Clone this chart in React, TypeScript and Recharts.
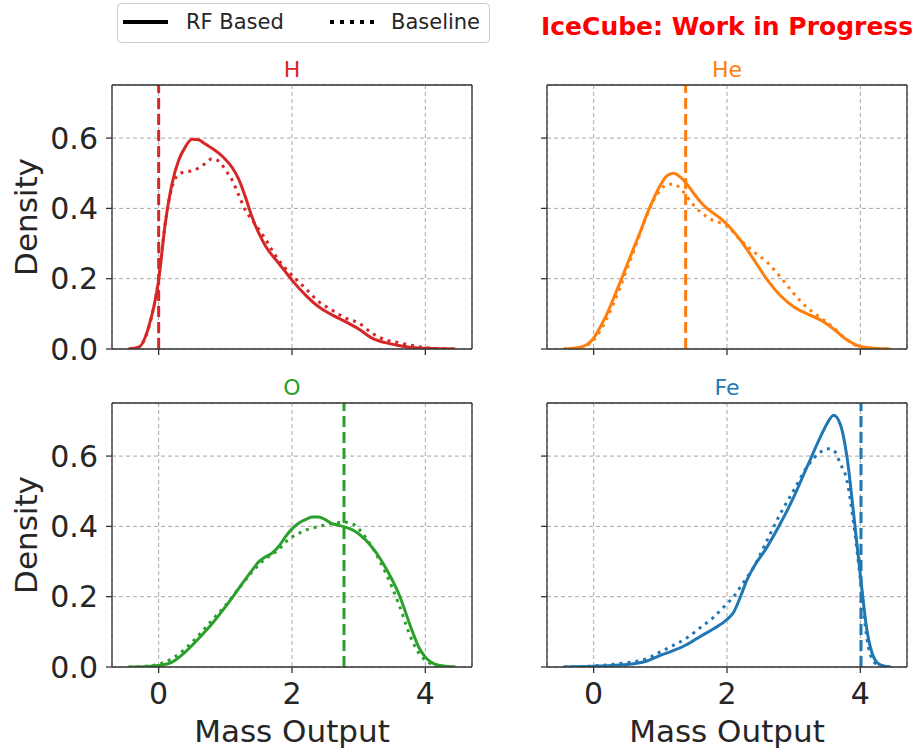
import { LineChart, Line, XAxis, YAxis, CartesianGrid, ReferenceLine } from 'recharts'

// KDE samples, one x grid per panel
const hX = [-0.45, -0.3, -0.15, 0, 0.1, 0.2, 0.3, 0.4, 0.5, 0.6, 0.7, 0.8, 0.9, 1.0, 1.1, 1.2, 1.3, 1.4, 1.5, 1.6, 1.7, 1.8, 1.9, 2.0, 2.2, 2.4, 2.6, 2.8, 3.0, 3.2, 3.4, 3.6, 3.8, 4.0, 4.2, 4.45]
const hRF = [0, 0.005, 0.063, 0.196, 0.358, 0.47, 0.537, 0.575, 0.597, 0.595, 0.583, 0.571, 0.557, 0.54, 0.517, 0.483, 0.433, 0.376, 0.33, 0.294, 0.267, 0.244, 0.22, 0.196, 0.154, 0.12, 0.097, 0.078, 0.057, 0.031, 0.018, 0.01, 0.004, 0.002, 0.001, 0]
const hBase = [0, 0.005, 0.06, 0.2, 0.36, 0.46, 0.497, 0.504, 0.507, 0.515, 0.528, 0.541, 0.535, 0.51, 0.481, 0.438, 0.395, 0.367, 0.341, 0.313, 0.282, 0.253, 0.23, 0.21, 0.173, 0.135, 0.111, 0.088, 0.074, 0.045, 0.026, 0.018, 0.01, 0.004, 0.001, 0]

const heX = [-0.45, -0.2, 0, 0.1, 0.2, 0.3, 0.4, 0.5, 0.6, 0.7, 0.8, 0.9, 1.0, 1.1, 1.2, 1.3, 1.4, 1.5, 1.6, 1.7, 1.8, 1.9, 2.0, 2.2, 2.4, 2.6, 2.8, 3.0, 3.2, 3.4, 3.6, 3.8, 4.0, 4.2, 4.45]
const heRF = [0, 0.005, 0.031, 0.063, 0.1, 0.145, 0.191, 0.239, 0.287, 0.334, 0.384, 0.428, 0.466, 0.493, 0.5, 0.489, 0.469, 0.443, 0.419, 0.4, 0.386, 0.372, 0.355, 0.31, 0.255, 0.198, 0.152, 0.12, 0.1, 0.083, 0.057, 0.026, 0.007, 0.002, 0]
const heBase = [0, 0.004, 0.026, 0.052, 0.088, 0.13, 0.177, 0.228, 0.278, 0.33, 0.381, 0.424, 0.452, 0.468, 0.469, 0.457, 0.433, 0.409, 0.39, 0.376, 0.365, 0.359, 0.35, 0.31, 0.277, 0.247, 0.205, 0.158, 0.118, 0.09, 0.06, 0.026, 0.006, 0.002, 0]

const oX = [-0.45, -0.2, 0, 0.2, 0.4, 0.6, 0.8, 1.0, 1.2, 1.4, 1.5, 1.6, 1.7, 1.8, 1.9, 2.0, 2.1, 2.2, 2.3, 2.4, 2.5, 2.6, 2.7, 2.8, 2.9, 3.0, 3.2, 3.4, 3.6, 3.8, 3.9, 4.0, 4.2, 4.45]
const oRF = [0, 0.001, 0.004, 0.014, 0.043, 0.081, 0.123, 0.171, 0.223, 0.275, 0.299, 0.313, 0.324, 0.343, 0.37, 0.393, 0.409, 0.419, 0.427, 0.427, 0.419, 0.408, 0.403, 0.398, 0.391, 0.379, 0.341, 0.284, 0.209, 0.104, 0.057, 0.028, 0.005, 0]
const oBase = [0, 0.002, 0.008, 0.024, 0.052, 0.09, 0.133, 0.175, 0.223, 0.27, 0.29, 0.308, 0.32, 0.334, 0.355, 0.37, 0.38, 0.389, 0.395, 0.4, 0.404, 0.408, 0.411, 0.412, 0.408, 0.393, 0.341, 0.27, 0.18, 0.076, 0.04, 0.019, 0.003, 0]

const feX = [-0.45, 0, 0.4, 0.6, 0.8, 1.0, 1.2, 1.4, 1.6, 1.8, 2.0, 2.1, 2.2, 2.3, 2.4, 2.6, 2.8, 3.0, 3.2, 3.4, 3.5, 3.6, 3.7, 3.8, 3.9, 4.0, 4.1, 4.2, 4.3, 4.45]
const feRF = [0, 0.002, 0.006, 0.009, 0.017, 0.033, 0.047, 0.064, 0.087, 0.109, 0.135, 0.156, 0.199, 0.248, 0.284, 0.341, 0.408, 0.483, 0.569, 0.654, 0.692, 0.716, 0.69, 0.597, 0.435, 0.262, 0.104, 0.028, 0.006, 0]
const feBase = [0, 0.003, 0.01, 0.015, 0.024, 0.043, 0.062, 0.083, 0.112, 0.142, 0.18, 0.2, 0.227, 0.255, 0.284, 0.36, 0.436, 0.502, 0.569, 0.611, 0.621, 0.616, 0.578, 0.53, 0.408, 0.25, 0.08, 0.015, 0.003, 0]

// true values drawn as the dashed vertical lines
const trueH = 0
const trueHe = 1.38
const trueO = 2.78
const trueFe = 4.01

const xTicks = [0, 2, 4]
const yTicks = [0, 0.2, 0.4, 0.6]

const FONT = 'DejaVu Sans, sans-serif'
const INK = '#262626'
const FRAME = '#333333'
const PLOT_W = 360
const PLOT_H = 264
const Y_AXIS_W = 110
const TOP_H = 32
const BOTTOM_H = 90

type PanelProps = {
  left: number
  top: number
  title: string
  color: string
  vline: number
  xs: number[]
  rf: number[]
  base: number[]
  showX: boolean
  showY: boolean
}

function Panel({ left, top, title, color, vline, xs, rf, base, showX, showY }: PanelProps) {
  const data = xs.map((x, i) => ({ x, rf: rf[i], base: base[i] }))
  const axisLine = { stroke: FRAME, strokeWidth: 1.3 }
  const tickStyle = { fill: INK, fontSize: 30, fontFamily: FONT }
  return (
    <div style={{ position: 'absolute', left: left - Y_AXIS_W, top: top - TOP_H }}>
      <LineChart
        width={Y_AXIS_W + PLOT_W + 1}
        height={TOP_H + PLOT_H + BOTTOM_H}
        data={data}
        margin={{ top: 0, right: 0, bottom: 0, left: 0 }}
      >
        <CartesianGrid stroke="#a8a8a8" strokeDasharray="4 3" strokeWidth={1} />
        <XAxis
          xAxisId="top"
          orientation="top"
          type="number"
          dataKey="x"
          domain={[-0.7, 4.7]}
          allowDataOverflow
          height={TOP_H}
          tick={false}
          tickLine={false}
          axisLine={axisLine}
          label={{ value: title, position: 'center', fill: color, fontSize: 22, fontFamily: FONT }}
        />
        <XAxis
          type="number"
          dataKey="x"
          domain={[-0.7, 4.7]}
          allowDataOverflow
          ticks={xTicks}
          height={BOTTOM_H}
          tickSize={6}
          tickMargin={10}
          tick={tickStyle}
          tickFormatter={(v: number) => (showX ? String(v) : '')}
          tickLine={{ stroke: FRAME, strokeWidth: 1.3 }}
          axisLine={axisLine}
          label={showX ? { value: 'Mass Output', position: 'insideBottom', offset: 15, fill: INK, fontSize: 31, fontFamily: FONT } : undefined}
        />
        <YAxis
          type="number"
          domain={[0, 0.751]}
          allowDataOverflow
          ticks={yTicks}
          width={Y_AXIS_W}
          tickSize={6}
          tickMargin={8}
          tick={tickStyle}
          tickFormatter={(v: number) => (showY ? v.toFixed(1) : '')}
          tickLine={{ stroke: FRAME, strokeWidth: 1.3 }}
          axisLine={axisLine}
          label={showY ? { value: 'Density', angle: -90, position: 'insideLeft', offset: 24, fill: INK, fontSize: 31, fontFamily: FONT, style: { textAnchor: 'middle' } } : undefined}
        />
        <YAxis
          yAxisId="right"
          orientation="right"
          type="number"
          domain={[0, 0.751]}
          width={1}
          tick={false}
          tickLine={false}
          axisLine={axisLine}
        />
        <ReferenceLine x={vline} stroke={color} strokeWidth={3} strokeDasharray="11 5" />
        <Line type="monotone" dataKey="base" stroke={color} strokeWidth={3} strokeDasharray="3 5" dot={false} activeDot={false} isAnimationActive={false} />
        <Line type="monotone" dataKey="rf" stroke={color} strokeWidth={3} dot={false} activeDot={false} isAnimationActive={false} />
      </LineChart>
    </div>
  )
}

export default function App() {
  return (
    <div style={{ position: 'absolute', left: 0, top: 0, width: 915, height: 753, background: '#fff', fontFamily: FONT }}>
      <Panel left={112} top={85} title="H" color="#d62728" vline={trueH} xs={hX} rf={hRF} base={hBase} showX={false} showY />
      <Panel left={547} top={85} title="He" color="#ff7f0e" vline={trueHe} xs={heX} rf={heRF} base={heBase} showX={false} showY={false} />
      <Panel left={112} top={403} title="O" color="#2ca02c" vline={trueO} xs={oX} rf={oRF} base={oBase} showX showY />
      <Panel left={547} top={403} title="Fe" color="#1f77b4" vline={trueFe} xs={feX} rf={feRF} base={feBase} showX showY={false} />
      <svg width={915} height={50} style={{ position: 'absolute', left: 0, top: 0 }}>
        <rect x={117.5} y={3.5} width={372} height={39} rx={4} fill="#fff" stroke="#cccccc" />
        <line x1={123} x2={168} y1={22} y2={22} stroke="#000" strokeWidth={4} />
        <text x={186} y={29} fontSize={21} fill={INK} fontFamily={FONT}>RF Based</text>
        <line x1={330} x2={374} y1={22} y2={22} stroke="#000" strokeWidth={4} strokeDasharray="4 6" />
        <text x={391} y={29} fontSize={21} fill={INK} fontFamily={FONT}>Baseline</text>
        <text x={541} y={35} fontSize={25} fontWeight="bold" fill="#ff0000" fontFamily={FONT}>IceCube: Work in Progress</text>
      </svg>
    </div>
  )
}
